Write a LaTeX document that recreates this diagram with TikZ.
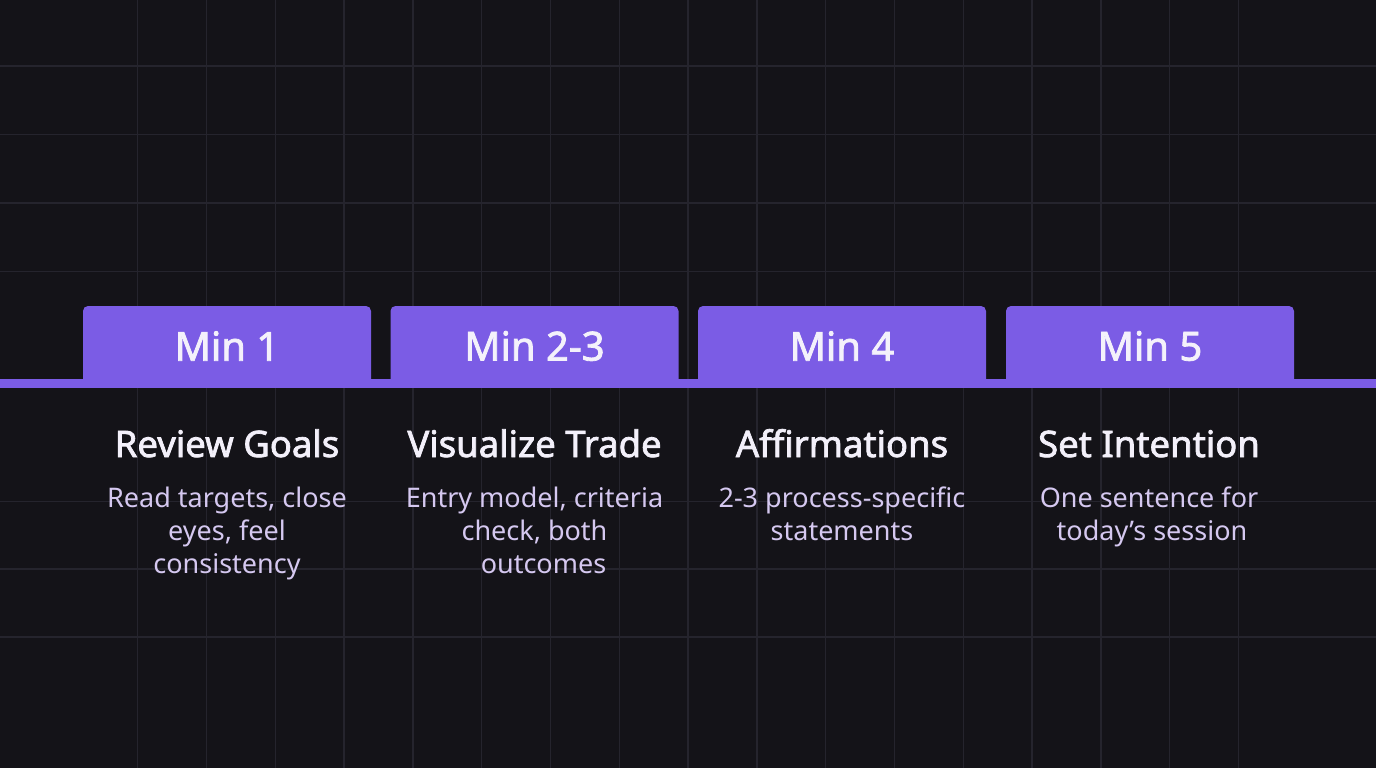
\documentclass[tikz,border=0pt]{standalone}
\usepackage{fontspec}
\setmainfont{Noto Sans}
\newfontfamily\medfont[FakeBold=2]{Noto Sans}
\definecolor{bgc}{HTML}{141318}
\definecolor{gridc}{HTML}{25242D}
\definecolor{tabc}{HTML}{7B5CE5}
\definecolor{tabtext}{HTML}{F4F1FB}
\definecolor{headc}{HTML}{F3F0FA}
\definecolor{descc}{HTML}{D5C8F0}
\begin{document}
\begin{tikzpicture}[x=1pt,y=-1pt,
  tab/.style={fill=tabc,rounded corners=5pt,minimum width=288pt,minimum height=80pt,inner sep=0pt,
    text=tabtext,font=\medfont\fontsize{40}{44}\selectfont},
  head/.style={text=headc,anchor=base,inner sep=0pt,font=\medfont\fontsize{36.5}{40}\selectfont},
  desc/.style={text=descc,anchor=north,inner sep=0pt,align=center,font=\fontsize{27}{33}\selectfont,
    execute at begin node={\rule{0pt}{20pt}}},
  gridline/.style={draw=gridc,line width=1.4pt}]
\fill[bgc] (0,0) rectangle (1376,768);
\useasboundingbox (0,0) rectangle (1376,768);
% grid
\foreach \k in {2,...,18} {\draw[gridline] (68.8*\k,0) -- (68.8*\k,768);}
\foreach \y in {66,134.5,203,271.5,501.5,569,637} {\draw[gridline] (0,\y) -- (1376,\y);}
% timeline bar
\fill[tabc] (0,379) rectangle (1376,388);
% tabs
\node[tab] (t1) at (227,346) {Min 1};
\node[tab] (t2) at (534.5,346) {Min 2-3};
\node[tab] (t3) at (842,346) {Min 4};
\node[tab] (t4) at (1150,346) {Min 5};
% headings
\node[head] (h1) at (227,457) {Review Goals};
\node[head] (h2) at (534.5,457) {Visualize Trade};
\node[head] (h3) at (842,457) {Affirmations};
\node[head] (h4) at (1149,457) {Set Intention};
% descriptions
\node[desc] (d1) at (227,487) {Read targets, close\\eyes, feel\\consistency};
\node[desc] (d2) at (534.5,487) {Entry model, criteria\\check, both\\\hspace*{18pt}outcomes};
\node[desc] (d3) at (842,487) {2-3 process-specific\\statements};
\node[desc] (d4) at (1149,487) {One sentence for\\\hspace*{6pt}today’s session};
\end{tikzpicture}
\end{document}
